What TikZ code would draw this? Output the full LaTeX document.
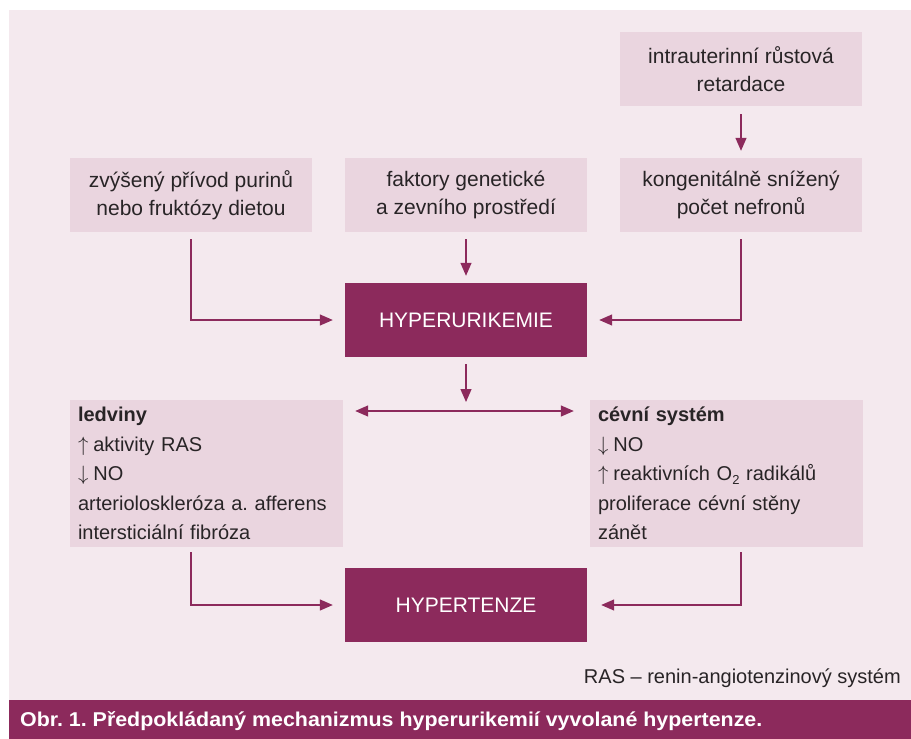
\documentclass[tikz,border=0pt]{standalone}
\usepackage{fontspec}
\setmainfont{Liberation Sans}
\usetikzlibrary{arrows.meta,positioning}
\frenchspacing

\definecolor{plum}{RGB}{140,42,92}
\definecolor{panelbg}{RGB}{244,233,238}
\definecolor{boxbg}{RGB}{234,213,223}
\definecolor{ink}{RGB}{40,36,38}

\newcommand{\nahoru}{$\uparrow$\hspace{5pt}}
\newcommand{\dolu}{$\downarrow$\hspace{5pt}}

\tikzset{
  faktor/.style={fill=boxbg, text=ink, align=center, inner sep=0pt,
    minimum width=242pt, minimum height=74pt,
    font=\fontsize{21}{28}\selectfont},
  stav/.style={fill=plum, text=white, inner sep=0pt,
    minimum width=242pt, minimum height=74pt,
    font=\fontsize{21}{25}\selectfont},
  organ/.style={fill=boxbg, text=ink, align=left, inner xsep=8pt, inner ysep=0pt,
    text width=257pt, minimum height=147pt,
    font=\fontsize{20}{29.5}\selectfont},
  sipka/.style={draw=plum, line width=1.3pt, -{Triangle[length=13pt,width=11pt]}},
  dvojsipka/.style={draw=plum, line width=1.3pt,
    {Triangle[length=13pt,width=11pt]}-{Triangle[length=13pt,width=11pt]}},
}

\begin{document}
\begin{tikzpicture}[x=1pt,y=-1pt]
  \useasboundingbox (0,0) rectangle (911,739);
  % podklad a popisek
  \fill[panelbg] (9,10) rectangle (911,700);
  \fill[plum] (9,700) rectangle (911,739);

  % vstupni faktory
  \node[faktor] (retard) at (741,69) {intrauterinní růstová\\retardace};
  \node[faktor] (purin) at (191,195) {zvýšený přívod purinů\\nebo fruktózy dietou};
  \node[faktor] (gen) at (466,195) {faktory genetické\\a zevního prostředí};
  \node[faktor] (nefron) at (741,195) {kongenitálně snížený\\počet nefronů};

  \node[stav] (hyper) at (466,320) {HYPERURIKEMIE};

  % organy
  \node[organ] (ledv) at (206.5,473.5) {\textbf{ledviny}\\\nahoru aktivity RAS\\\dolu NO\\arterioloskleróza a. afferens\\intersticiální fibróza};
  \node[organ] (cevni) at (726.5,473.5) {\textbf{cévní systém}\\\dolu NO\\\nahoru reaktivních O{\fontsize{13}{13}\selectfont\raisebox{-4pt}{2}} radikálů\\proliferace cévní stěny\\zánět};

  \node[stav] (hypert) at (466,605) {HYPERTENZE};

  \coordinate (split) at (466,411);

  % sipky
  \draw[sipka, shorten <=8pt, shorten >=7pt] (retard) -- (nefron);
  \draw[sipka, shorten <=7pt, shorten >=7pt] (gen) -- (hyper);
  \draw[sipka, shorten <=7pt, shorten >=12pt] (purin) |- (hyper);
  \draw[sipka, shorten <=7pt, shorten >=12pt] (nefron) |- (hyper);
  \draw[sipka, shorten <=7pt, shorten >=9pt] (hyper) -- (split);
  \draw[dvojsipka, shorten <=12pt, shorten >=16pt] (ledv.east |- split) -- (cevni.west |- split);
  \draw[sipka, shorten <=5pt, shorten >=12pt] (ledv.south -| purin.south) |- (hypert.west);
  \draw[sipka, shorten <=5pt, shorten >=14pt] (cevni.south -| nefron.south) |- (hypert.east);

  % poznamka a titulek
  \node[text=ink, anchor=base east, inner sep=0pt, font=\fontsize{20}{24}\selectfont] (pozn) at (901,683) {RAS – renin-angiotenzinový systém};
  \node[text=white, anchor=west, inner sep=0pt, font=\bfseries\fontsize{20}{24}\selectfont] (titul) at (20,721) {\scalebox{1.07}[1]{Obr. 1. Předpokládaný mechanizmus hyperurikemií vyvolané hypertenze.}};
\end{tikzpicture}
\end{document}
